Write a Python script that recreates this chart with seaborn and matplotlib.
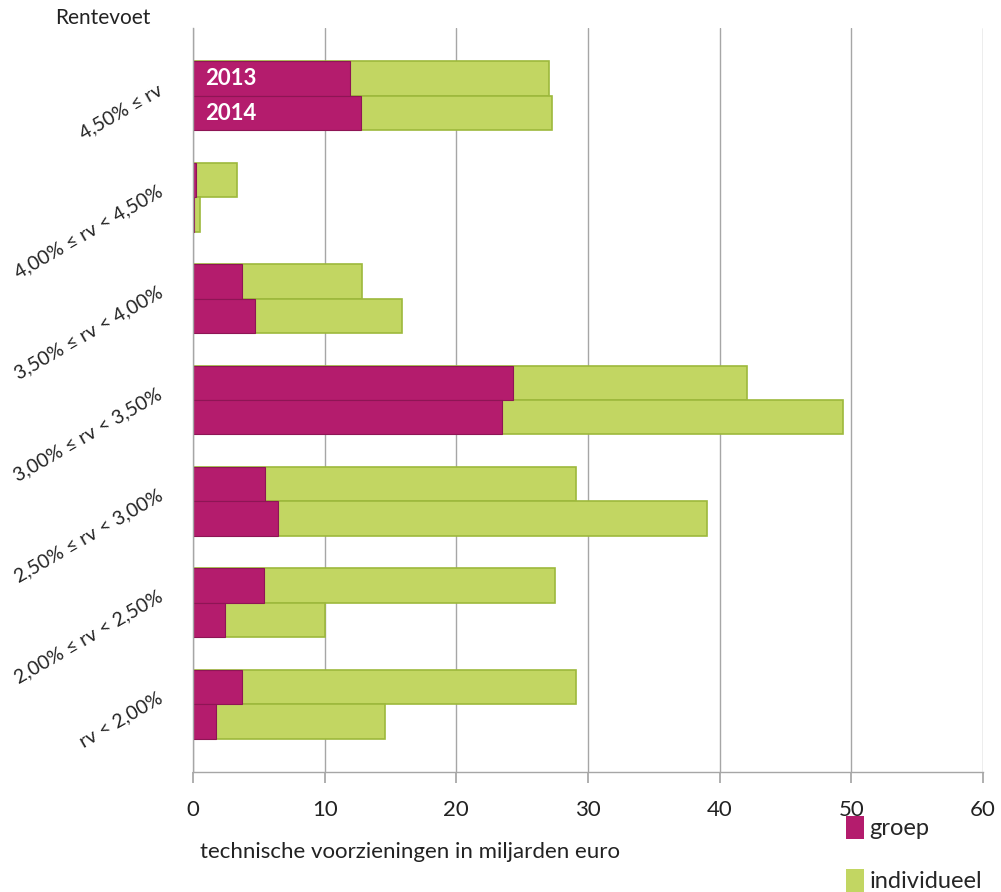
import pandas as pd
import matplotlib
matplotlib.use("Agg")
import matplotlib.pyplot as plt
import seaborn as sns
from matplotlib.patches import Patch

# Data (miljarden euro)
rentevoet = ['4,50% ≤ rv', '4,00% ≤ rv < 4,50%', '3,50% ≤ rv < 4,00%', '3,00% ≤ rv < 3,50%',
             '2,50% ≤ rv < 3,00%', '2,00% ≤ rv < 2,50%', 'rv < 2,00%']
groep_2013 = [11.9, 0.2, 3.7, 24.3, 5.5, 5.4, 3.75]
groep_2014 = [12.75, 0.05, 4.7, 23.5, 6.45, 2.43, 1.75]
indiv_2013 = [15.1, 3.15, 9.1, 17.8, 23.6, 22.1, 25.35]
indiv_2014 = [14.55, 0.5, 11.2, 25.9, 32.55, 7.57, 12.85]
years = ['2013', '2014']

GROEP = '#B41C6D'
INDIV = '#C2D662'

df = pd.DataFrame({
    'rentevoet': rentevoet * 2,
    'jaar': [years[0]] * 7 + [years[1]] * 7,
    'groep': groep_2013 + groep_2014,
    'individueel': indiv_2013 + indiv_2014,
})
df['totaal'] = df['groep'] + df['individueel']

sns.set_theme(style="white")
plt.rcParams['font.family'] = ['Lato', 'DejaVu Sans']

fig = plt.figure(figsize=(10.01, 8.92), dpi=100)
ax = fig.add_axes([193 / 1001, 1 - 772 / 892, 790 / 1001, 744 / 892])

# totals first (green), then groep on top (magenta)
sns.barplot(data=df, y='rentevoet', x='totaal', hue='jaar', hue_order=years, order=rentevoet,
            palette=[INDIV, INDIV], saturation=1, width=0.68, dodge=True, gap=0, orient='h',
            edgecolor='#9DB93C', linewidth=1.2, legend=False, ax=ax, errorbar=None)
sns.barplot(data=df, y='rentevoet', x='groep', hue='jaar', hue_order=years, order=rentevoet,
            palette=[GROEP, GROEP], saturation=1, width=0.68, dodge=True, gap=0, orient='h',
            edgecolor='#8E1555', linewidth=0.8, legend=False, ax=ax, errorbar=None)

ax.set_xlim(0, 60)
ax.set_ylim(len(rentevoet) - 1 + 0.67, -0.67)
ax.set_xticks(range(0, 61, 10))
ax.xaxis.grid(True, color='#A6A6A6', linewidth=1)
ax.set_axisbelow(True)
for side in ['top', 'right']:
    ax.spines[side].set_visible(False)
for side in ['left', 'bottom']:
    ax.spines[side].set_color('#A6A6A6')
    ax.spines[side].set_linewidth(1)
ax.tick_params(axis='x', which='major', direction='out', length=8, color='#A6A6A6',
               labelsize=16, pad=12, labelcolor='#222222', bottom=True)
ax.tick_params(axis='y', length=0, pad=20, labelsize=14, labelcolor='#222222')
for lab in ax.get_yticklabels():
    lab.set_rotation(30)
    lab.set_ha('right')
    lab.set_va('bottom')
    lab.set_rotation_mode('anchor')
ax.set_xlabel('')
ax.set_ylabel('')

# year labels inside first pair of bars
ax.text(0.9, -0.17, years[0], color='white', fontsize=16, fontweight='bold', va='center', ha='left')
ax.text(0.9, 0.17, years[1], color='white', fontsize=16, fontweight='bold', va='center', ha='left')

fig.text(55 / 1001, 1 - 18 / 892, 'Rentevoet', fontsize=15, va='center', ha='left', color='#222222')
fig.text(200 / 1001, 1 - 852 / 892, 'technische voorzieningen in miljarden euro', fontsize=16,
         va='center', ha='left', color='#222222')

handles = [Patch(facecolor=GROEP, edgecolor='none'), Patch(facecolor=INDIV, edgecolor='none')]
fig.legend(handles, ['groep', 'individueel'], loc='upper left',
           bbox_to_anchor=(846 / 1001, 1 - 816 / 892), frameon=False, fontsize=17,
           handlelength=0.75, handleheight=1.1, handletextpad=0.25, labelspacing=1.25,
           borderpad=0, borderaxespad=0)

fig.savefig('out.png', dpi=100)
